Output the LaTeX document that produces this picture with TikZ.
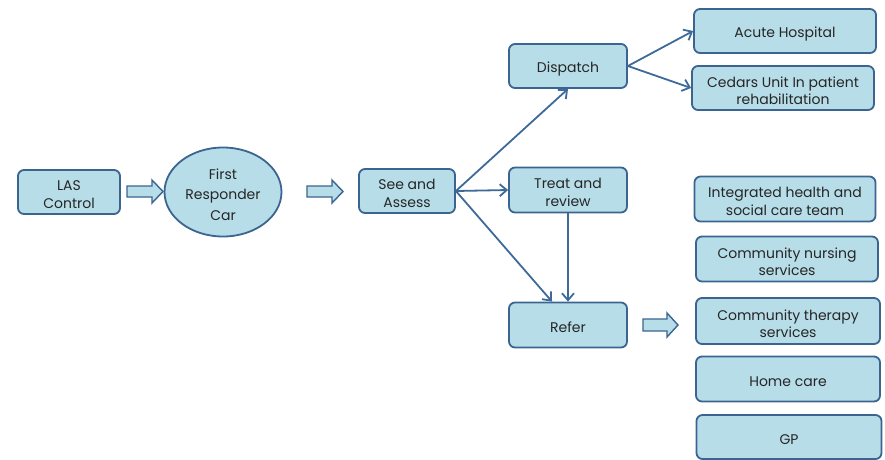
\documentclass[tikz,border=0pt]{standalone}
\usepackage{fontspec}
\setmainfont{Poppins}
\usetikzlibrary{arrows.meta,shapes.geometric}
\definecolor{boxfill}{HTML}{B7DDE8}
\definecolor{boxline}{HTML}{3B6491}
\definecolor{arrline}{HTML}{3E6A9A}
\definecolor{txt}{HTML}{262626}
\tikzset{
  box/.style={draw=boxline, fill=boxfill, line width=1.8pt, rounded corners=6pt, inner sep=0pt},
  lbl/.style={align=center, text=txt, font=\fontsize{14}{17.5}\selectfont, inner sep=0pt, yshift=-2.5pt},
  link/.style={draw=arrline, line width=1.8pt, -{Straight Barb[length=7pt,width=12pt,line width=1.8pt]}},
  fat/.style={draw=boxline, fill=boxfill, line width=1.4pt, line join=miter}
}
\newcommand{\bx}[6][]{%
  \node[box,#1, minimum width=#4pt, minimum height=#5pt] (#2) at (#3) {};
  \node[lbl] (#2-t) at (#2.center) {#6};}
\begin{document}
\begin{tikzpicture}[x=1pt,y=-1pt]
\useasboundingbox (0,0) rectangle (885,459);
\bx{las}{69,192}{102}{44}{LAS\\Control}
\node[box, ellipse, minimum width=117pt, minimum height=89pt] (frc) at (223,192) {};
\node[lbl, font=\fontsize{14}{20.5}\selectfont] (frc-t) at (frc.center) {First\\Responder\\Car};
\bx{see}{407,191}{96}{44}{See and\\Assess}
\bx{disp}{568,66}{118}{44}{Dispatch}
\bx{treat}{568,190}{118}{45}{Treat and\\review}
\bx{refer}{568,325}{118}{45}{Refer}
\bx{acute}{785,31}{182}{44}{Acute Hospital}
\bx{cedars}{783,88}{182}{44}{Cedars Unit In patient\\rehabilitation}
\bx{integ}{785,199}{181}{45}{Integrated health and\\social care team}
\bx{nurse}{787,259}{182}{45}{Community nursing\\services}
\bx{ther}{788,321}{184}{46}{Community therapy\\services}
\bx{home}{788,379}{184}{45}{Home care}
\bx{gp}{789,437}{185}{44}{GP}
% hollow arrows
\draw[fat] (127,186) -- (152,186) -- (152,180) -- (163,191.5) -- (152,203) -- (152,197) -- (127,197) -- cycle;
\draw[fat] (307,186) -- (332,186) -- (332,180) -- (343,191.5) -- (332,203) -- (332,197) -- (307,197) -- cycle;
\draw[fat] (643,319) -- (667,319) -- (667,313) -- (678,325) -- (667,337) -- (667,331) -- (643,331) -- cycle;
% connectors
\draw[link] (see.east) -- (disp.south);
\draw[link] (see.east) -- (treat.west);
\draw[link] (see.east) -- ([xshift=-16pt]refer.north);
\draw[link] (treat.south) -- (refer.north);
\draw[link] (disp.east) -- (acute.west);
\draw[link] (disp.east) -- (cedars.west);
\end{tikzpicture}
\end{document}
